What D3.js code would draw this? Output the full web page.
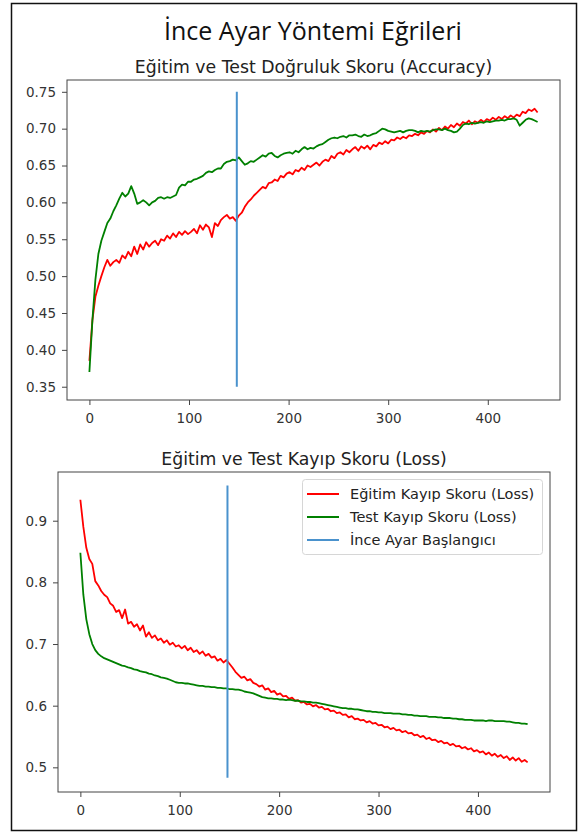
<!DOCTYPE html>
<html>
<head>
<meta charset="utf-8">
<script src="https://cdn.jsdelivr.net/npm/d3@7"></script>
<style>
  body { margin: 0; background: #fff; }
  svg { display: block; }
  .tick text { font-family: "DejaVu Sans", sans-serif; font-size: 13.5px; fill: #333; }
  .tick line { stroke: #444; }
</style>
</head>
<body>
<svg id="chart" width="580" height="837"></svg>
<script>
const mainTitle = "İnce Ayar Yöntemi Eğrileri";
const accTitle = "Eğitim ve Test Doğruluk Skoru (Accuracy)";
const lossTitle = "Eğitim ve Test Kayıp Skoru (Loss)";
const legendLabels = ["Eğitim Kayıp Skoru (Loss)", "Test Kayıp Skoru (Loss)", "İnce Ayar Başlangıcı"];

// values read every 3 epochs (0..450)
const epochs = d3.range(0, 451, 3);

const accTrain = [
  0.385, 0.440, 0.472, 0.487, 0.500, 0.512, 0.522, 0.514, 0.519, 0.522,
  0.518, 0.528, 0.524, 0.533, 0.527, 0.540, 0.530, 0.543, 0.536, 0.546,
  0.540, 0.545, 0.548, 0.542, 0.550, 0.548, 0.555, 0.551, 0.558, 0.553,
  0.560, 0.556, 0.561, 0.557, 0.560, 0.564, 0.558, 0.569, 0.563, 0.570,
  0.566, 0.553, 0.572, 0.568, 0.576, 0.580, 0.583, 0.578, 0.580, 0.575,
  0.582, 0.586, 0.594, 0.600, 0.604, 0.609, 0.613, 0.617, 0.621, 0.619,
  0.626, 0.627, 0.631, 0.629, 0.636, 0.634, 0.639, 0.641, 0.638, 0.644,
  0.642, 0.647, 0.644, 0.650, 0.648, 0.651, 0.654, 0.650, 0.655, 0.658,
  0.656, 0.663, 0.660, 0.666, 0.668, 0.665, 0.671, 0.668, 0.672, 0.675,
  0.670, 0.676, 0.673, 0.677, 0.672, 0.678, 0.676, 0.681, 0.679, 0.683,
  0.680, 0.685, 0.684, 0.688, 0.686, 0.689, 0.687, 0.691, 0.690, 0.693,
  0.691, 0.695, 0.693, 0.697, 0.695, 0.699, 0.696, 0.701, 0.698, 0.703,
  0.700, 0.705, 0.702, 0.707, 0.704, 0.709, 0.707, 0.711, 0.706, 0.710,
  0.708, 0.712, 0.709, 0.713, 0.711, 0.715, 0.712, 0.716, 0.713, 0.717,
  0.714, 0.718, 0.715, 0.719, 0.717, 0.723, 0.721, 0.726, 0.724, 0.727,
  0.722
];

const accTest = [
  0.370, 0.440, 0.495, 0.530, 0.548, 0.560, 0.572, 0.578, 0.588, 0.596,
  0.605, 0.613, 0.608, 0.612, 0.622, 0.612, 0.598, 0.600, 0.603, 0.600,
  0.596, 0.600, 0.602, 0.606, 0.607, 0.605, 0.607, 0.606, 0.608, 0.610,
  0.620, 0.624, 0.623, 0.628, 0.628, 0.631, 0.632, 0.634, 0.636, 0.640,
  0.642, 0.641, 0.644, 0.646, 0.646, 0.652, 0.655, 0.656, 0.658, 0.657,
  0.661, 0.656, 0.651, 0.653, 0.656, 0.655, 0.658, 0.661, 0.664, 0.662,
  0.666, 0.667, 0.663, 0.661, 0.664, 0.666, 0.667, 0.668, 0.666, 0.670,
  0.668, 0.672, 0.675, 0.672, 0.674, 0.673, 0.676, 0.678, 0.679, 0.682,
  0.685, 0.687, 0.688, 0.687, 0.689, 0.690, 0.688, 0.691, 0.691, 0.692,
  0.690, 0.689, 0.692, 0.690, 0.691, 0.693, 0.694, 0.697, 0.700, 0.699,
  0.697, 0.696, 0.695, 0.696, 0.697, 0.695, 0.697, 0.698, 0.698, 0.697,
  0.695, 0.697, 0.696, 0.697, 0.696, 0.698, 0.699, 0.699, 0.698, 0.700,
  0.698, 0.697, 0.695, 0.696, 0.700, 0.705, 0.707, 0.706, 0.708, 0.707,
  0.708, 0.709, 0.708, 0.710, 0.709, 0.710, 0.711, 0.711, 0.712, 0.711,
  0.713, 0.713, 0.714, 0.712, 0.704, 0.708, 0.712, 0.714, 0.713, 0.711,
  0.709
];

const lossTrain = [
  0.934, 0.890, 0.856, 0.838, 0.830, 0.802, 0.795, 0.786, 0.780, 0.776,
  0.766, 0.762, 0.752, 0.755, 0.742, 0.756, 0.733, 0.736, 0.728, 0.732,
  0.722, 0.730, 0.712, 0.719, 0.710, 0.714, 0.706, 0.709, 0.702, 0.706,
  0.699, 0.702, 0.696, 0.698, 0.693, 0.697, 0.690, 0.694, 0.687, 0.690,
  0.684, 0.688, 0.681, 0.684, 0.678, 0.680, 0.673, 0.676, 0.670, 0.674,
  0.668, 0.662, 0.655, 0.650, 0.645, 0.647, 0.641, 0.643, 0.637, 0.635,
  0.631, 0.633, 0.626, 0.628, 0.622, 0.624, 0.618, 0.620, 0.615, 0.616,
  0.611, 0.613, 0.608, 0.609, 0.605, 0.606, 0.602, 0.603, 0.599, 0.601,
  0.597, 0.598, 0.594, 0.595, 0.591, 0.592, 0.588, 0.589, 0.585, 0.586,
  0.581, 0.583, 0.578, 0.579, 0.576, 0.577, 0.573, 0.575, 0.571, 0.572,
  0.568, 0.569, 0.565, 0.566, 0.562, 0.564, 0.560, 0.561, 0.557, 0.559,
  0.555, 0.556, 0.552, 0.553, 0.549, 0.551, 0.546, 0.548, 0.544, 0.545,
  0.541, 0.543, 0.539, 0.540, 0.536, 0.538, 0.534, 0.535, 0.531, 0.533,
  0.529, 0.531, 0.526, 0.528, 0.524, 0.526, 0.521, 0.524, 0.519, 0.522,
  0.517, 0.520, 0.515, 0.518, 0.512, 0.516, 0.511, 0.515, 0.509, 0.512,
  0.508
];

const lossTest = [
  0.848, 0.780, 0.740, 0.716, 0.700, 0.690, 0.684, 0.680, 0.677, 0.675,
  0.673, 0.671, 0.669, 0.667, 0.665, 0.664, 0.662, 0.661, 0.659, 0.658,
  0.656, 0.655, 0.654, 0.652, 0.651, 0.649, 0.648, 0.646, 0.645, 0.644,
  0.642, 0.640, 0.638, 0.637, 0.637, 0.636, 0.636, 0.635, 0.634, 0.633,
  0.632, 0.632, 0.631, 0.631, 0.630, 0.630, 0.629, 0.629, 0.628, 0.628,
  0.627, 0.627, 0.626, 0.626, 0.625, 0.623, 0.622, 0.621, 0.620, 0.618,
  0.616, 0.614, 0.613, 0.612, 0.612, 0.611, 0.611, 0.610, 0.610, 0.609,
  0.610, 0.609, 0.608, 0.608, 0.607, 0.607, 0.606, 0.606, 0.605, 0.605,
  0.604, 0.603, 0.602, 0.601, 0.600, 0.599, 0.598, 0.597, 0.596, 0.596,
  0.595, 0.595, 0.594, 0.594, 0.593, 0.592, 0.591, 0.591, 0.590, 0.590,
  0.589, 0.589, 0.588, 0.588, 0.588, 0.587, 0.587, 0.587, 0.586, 0.586,
  0.585, 0.585, 0.584, 0.584, 0.583, 0.583, 0.583, 0.582, 0.582, 0.582,
  0.581, 0.581, 0.580, 0.580, 0.580, 0.579, 0.579, 0.578, 0.578, 0.577,
  0.577, 0.577, 0.576, 0.576, 0.576, 0.576, 0.575, 0.576, 0.576, 0.575,
  0.575, 0.575, 0.575, 0.574, 0.574, 0.573, 0.572, 0.572, 0.571, 0.571,
  0.570
];

const fineTuneEpoch = 148;
const accMarker = [0.35, 0.75];
const lossMarker = [0.483, 0.957];

const accTicks = [0.35, 0.40, 0.45, 0.50, 0.55, 0.60, 0.65, 0.70, 0.75];
const lossTicks = [0.5, 0.6, 0.7, 0.8, 0.9];
const epochTicks = [0, 100, 200, 300, 400];

const colors = { train: "#ff0000", test: "#008000", marker: "#4a92cd" };

const svg = d3.select("#chart");

// outer frame
svg.append("rect")
  .attr("x", 11.5).attr("y", 3.5)
  .attr("width", 565).attr("height", 827)
  .attr("fill", "none").attr("stroke", "#111").attr("stroke-width", 1.5);

svg.append("text")
  .attr("x", 313).attr("y", 40)
  .attr("text-anchor", "middle")
  .style("font-family", "'Open Sans', sans-serif")
  .style("font-size", "25px")
  .style("fill", "#111")
  .text(mainTitle);

function drawPanel(box, yDomain, yTicks, yFmt, train, test, marker, title) {
  const x = d3.scaleLinear().domain([-22.5, 472.5]).range([box.left, box.right]);
  const y = d3.scaleLinear().domain(yDomain).range([box.bottom, box.top]);
  const g = svg.append("g");

  g.append("text")
    .attr("x", (box.left + box.right) / 2).attr("y", box.top - 7)
    .attr("text-anchor", "middle")
    .style("font-family", "'DejaVu Sans', sans-serif")
    .style("font-size", "17.3px")
    .style("fill", "#222")
    .text(title);

  const line = d3.line()
    .x((d, i) => x(epochs[i]))
    .y(d => y(d));

  g.append("path").datum(train)
    .attr("d", line).attr("fill", "none")
    .attr("stroke", colors.train).attr("stroke-width", 1.8)
    .attr("stroke-linejoin", "round");

  g.append("path").datum(test)
    .attr("d", line).attr("fill", "none")
    .attr("stroke", colors.test).attr("stroke-width", 1.8)
    .attr("stroke-linejoin", "round");

  g.append("line")
    .attr("x1", x(fineTuneEpoch)).attr("x2", x(fineTuneEpoch))
    .attr("y1", y(marker[0])).attr("y2", y(marker[1]))
    .attr("stroke", colors.marker).attr("stroke-width", 2);

  const xAxis = g.append("g")
    .attr("transform", `translate(0,${box.bottom})`)
    .call(d3.axisBottom(x).tickValues(epochTicks).tickSize(5).tickPadding(8.5));
  xAxis.select(".domain").remove();

  const yAxis = g.append("g")
    .attr("transform", `translate(${box.left},0)`)
    .call(d3.axisLeft(y).tickValues(yTicks).tickFormat(d3.format(yFmt)).tickSize(5).tickPadding(6));
  yAxis.select(".domain").remove();

  g.append("rect")
    .attr("x", box.left).attr("y", box.top)
    .attr("width", box.right - box.left).attr("height", box.bottom - box.top)
    .attr("fill", "none").attr("stroke", "#444").attr("stroke-width", 1);

  return { x, y, g };
}

drawPanel({ left: 67, right: 560, top: 80, bottom: 400 }, [0.332, 0.766], accTicks, ".2f",
  accTrain, accTest, accMarker, accTitle);

const lossPanel = drawPanel({ left: 58, right: 550, top: 472, bottom: 792 }, [0.460, 0.979], lossTicks, ".1f",
  lossTrain, lossTest, lossMarker, lossTitle);

// legend
const legend = lossPanel.g.append("g");
legend.append("rect")
  .attr("x", 302.5).attr("y", 479.5)
  .attr("width", 240).attr("height", 75)
  .attr("rx", 3)
  .attr("fill", "#fff").attr("stroke", "#d6d6d6");

const legendColors = [colors.train, colors.test, colors.marker];
legend.selectAll("g.item")
  .data(legendLabels)
  .enter()
  .append("g")
  .attr("class", "item")
  .attr("transform", (d, i) => `translate(0,${494 + i * 23})`)
  .each(function (d, i) {
    const item = d3.select(this);
    item.append("line")
      .attr("x1", 307).attr("x2", 339)
      .attr("stroke", legendColors[i]).attr("stroke-width", 2);
    item.append("text")
      .attr("x", 350).attr("y", 5)
      .style("font-family", "'DejaVu Sans', sans-serif")
      .style("font-size", "14.5px")
      .style("fill", "#222")
      .text(d);
  });
</script>
</body>
</html>
